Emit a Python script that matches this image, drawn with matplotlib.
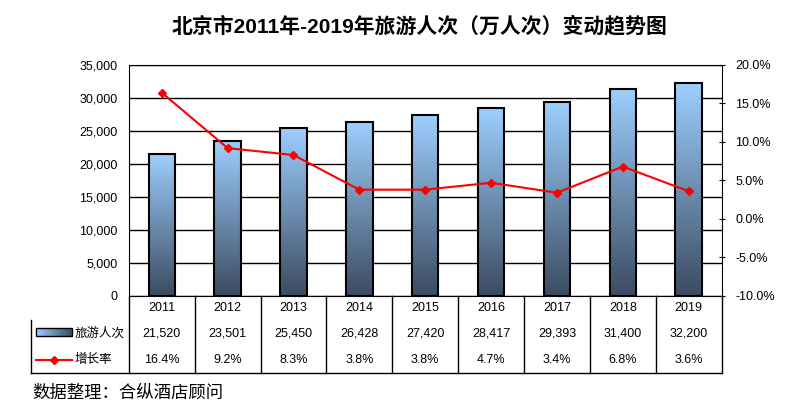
import numpy as np
import matplotlib
matplotlib.use("Agg")
import matplotlib.pyplot as plt
from matplotlib.colors import LinearSegmentedColormap
from matplotlib.lines import Line2D
from matplotlib.patches import Rectangle

plt.rcParams['font.family'] = ['Liberation Sans', 'Noto Sans CJK SC', 'DejaVu Sans']

# data
years = ["2011", "2012", "2013", "2014", "2015", "2016", "2017", "2018", "2019"]
visitors = [21520, 23501, 25450, 26428, 27420, 28417, 29393, 31400, 32200]
growth = [16.4, 9.2, 8.3, 3.8, 3.8, 4.7, 3.4, 6.8, 3.6]

title = "北京市2011年-2019年旅游人次（万人次）变动趋势图"
source = "数据整理：合纵酒店顾问"

fig = plt.figure(figsize=(8, 4.11), dpi=100)
ax = fig.add_axes([0.161, 0.280, 0.741, 0.562])
ax2 = ax.twinx()

x = np.arange(len(years))
cmap = LinearSegmentedColormap.from_list("bar", ["#3c4b60", "#9dcfff"])
grad = np.linspace(0, 1, 256).reshape(-1, 1)

# bars with vertical gradient fill
bars = ax.bar(x, visitors, width=0.4, facecolor="none", edgecolor="black", linewidth=1.5, zorder=3)
for b in bars:
    x0, y0, w, h = b.get_x(), b.get_y(), b.get_width(), b.get_height()
    ax.imshow(grad, cmap=cmap, origin="lower", aspect="auto",
              extent=[x0, x0 + w, y0, y0 + h], zorder=2)

ax.set_xlim(-0.5, len(years) - 0.5)
ax.set_ylim(0, 35000)
ax.set_yticks(range(0, 35001, 5000))
ax.set_yticklabels([f"{v:,}" for v in range(0, 35001, 5000)], fontsize=9)
ax.yaxis.grid(True, color="black", linewidth=1)
ax.set_axisbelow(True)
ax.tick_params(axis="y", length=0, pad=8)
ax.set_xticks([])

ax2.plot(x, growth, color="red", marker="D", markersize=4.5, linewidth=1.5, zorder=5)
ax2.set_ylim(-10, 20)
ax2.set_yticks(range(-10, 21, 5))
ax2.set_yticklabels([f"{v:.1f}%" for v in range(-10, 21, 5)], fontsize=9)
ax2.tick_params(axis="y", length=4, direction="inout", pad=8)
for s in ax2.spines.values():
    s.set_visible(False)

# data table under the plot
trans = ax.get_xaxis_transform()
r0, r1, r2, r3 = 0.0, -0.104, -0.221, -0.333
left = -0.5 - (129 - 32) / 588 * len(years)
kw = dict(transform=trans, color="black", linewidth=1, clip_on=False)
for i in range(len(years) + 1):
    ax.add_line(Line2D([i - 0.5, i - 0.5], [r0, r3], **kw))
ax.add_line(Line2D([left, left], [r1, r3], **kw))
ax.add_line(Line2D([left, len(years) - 0.5], [r3, r3], **kw))

for i in range(len(years)):
    ax.text(i, (r0 + r1) / 2, years[i], transform=trans, ha="center", va="center", fontsize=9)
    ax.text(i, (r1 + r2) / 2, f"{visitors[i]:,}", transform=trans, ha="center", va="center", fontsize=9)
    ax.text(i, (r2 + r3) / 2, f"{growth[i]:.1f}%", transform=trans, ha="center", va="center", fontsize=9)

# row legends
ax.imshow(grad.T, cmap=LinearSegmentedColormap.from_list("k", ["#9dcfff", "#3c4b60"]),
          aspect="auto", extent=[left + 0.08, left + 0.62, r1 - 0.037, r1 - 0.068],
          transform=trans, clip_on=False, zorder=4)
ax.add_patch(Rectangle((left + 0.08, r1 - 0.068), 0.54, 0.031, transform=trans,
                       facecolor="none", edgecolor="black", linewidth=1, clip_on=False, zorder=5))
ax.text(left + 0.66, (r1 + r2) / 2, "旅游人次", transform=trans, ha="left", va="center", fontsize=9)
ax.add_line(Line2D([left + 0.08, left + 0.62], [(r2 + r3) / 2] * 2, transform=trans, color="red",
                   linewidth=1.5, clip_on=False))
ax.add_line(Line2D([left + 0.35], [(r2 + r3) / 2], transform=trans, color="red", marker="D",
                   markersize=4, clip_on=False))
ax.text(left + 0.66, (r2 + r3) / 2, "增长率", transform=trans, ha="left", va="center", fontsize=9)

fig.text(0.524, 0.937, title, ha="center", va="center", fontsize=15, fontweight="bold")
fig.text(0.04, 0.044, source, ha="left", va="center", fontsize=12.5)

fig.savefig("out.png", dpi=100)
